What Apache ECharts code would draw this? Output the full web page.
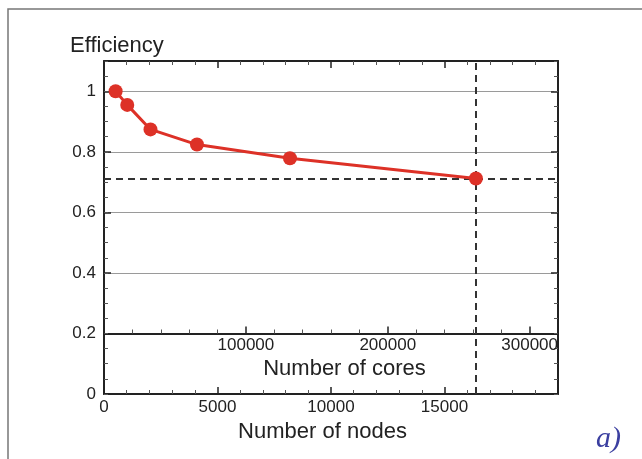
<!DOCTYPE html>
<html>
<head>
<meta charset="utf-8">
<script src="https://cdn.jsdelivr.net/npm/echarts@6/dist/echarts.min.js"></script>
<style>
  html, body { margin: 0; padding: 0; background: #fff; }
</style>
</head>
<body>
<div id="main" style="width: 642px; height: 459px;"></div>
<script>
// data
var nodes = [512, 1024, 2048, 4096, 8192, 16384];
var efficiency = [1.0, 0.955, 0.874, 0.824, 0.779, 0.712];
var coresPerNode = 16;
var refNodes = 16384;
var refEff = 0.712;

var font = '"Liberation Sans", Arial, sans-serif';
var axisColor = '#222';

var chart = echarts.init(document.getElementById('main'));

var tickLabel = { fontFamily: font, fontSize: 17, color: '#222' };
var nameStyle = { fontFamily: font, fontSize: 22, color: '#222' };

function frameAxis(extra) {
  return Object.assign({
    type: 'value',
    gridIndex: 0,
    axisLine: { onZero: false, lineStyle: { color: axisColor, width: 2 } },
    axisTick: { inside: true, length: 7, lineStyle: { color: axisColor, width: 1.5 } },
    axisLabel: { show: false },
    splitLine: { show: false }
  }, extra);
}

chart.setOption({
  animation: false,
  title: {
    text: 'Efficiency',
    left: 65,
    top: 30,
    textStyle: { fontFamily: font, fontSize: 22, fontWeight: 'normal', color: '#222' }
  },
  grid: [
    { left: 104, right: 84, top: 61, bottom: 65 },
    // helper grid whose bottom edge sits at efficiency = 0.2 (cores axis)
    { left: 104, right: 84, top: 61, bottom: 125.5 }
  ],
  xAxis: [
    frameAxis({
      position: 'bottom',
      min: 0, max: 20000, interval: 5000,
      name: 'Number of nodes', nameLocation: 'middle', nameGap: 24,
      nameTextStyle: Object.assign({ padding: [0, 17, 0, 0] }, nameStyle),
      minorTick: { show: true, splitNumber: 5, length: 4, lineStyle: { color: '#555' } },
      axisLabel: Object.assign({
        margin: 5,
        formatter: function (v) { return v >= 20000 ? '' : String(v); }
      }, tickLabel)
    }),
    frameAxis({
      position: 'top',
      min: 0, max: 20000, interval: 5000,
      minorTick: { show: true, splitNumber: 5, length: 4, lineStyle: { color: '#555' } }
    }),
    frameAxis({
      gridIndex: 1,
      position: 'bottom',
      min: 0, max: 20000 * coresPerNode, interval: 100000,
      name: 'Number of cores', nameLocation: 'middle', nameGap: 22,
      nameTextStyle: Object.assign({ padding: [0, 0, 0, 27] }, nameStyle),
      minorTick: { show: true, splitNumber: 5, length: 4, lineStyle: { color: '#555' } },
      axisLabel: Object.assign({
        margin: 3,
        formatter: function (v) { return v === 0 ? '' : String(v); }
      }, tickLabel)
    })
  ],
  yAxis: [
    frameAxis({
      position: 'left',
      min: 0, max: 1.1, interval: 0.2,
      axisLabel: Object.assign({
        margin: 8,
        formatter: function (v) { return v > 1.05 ? '' : String(+v.toFixed(1)); }
      }, tickLabel),
      splitLine: { show: true, lineStyle: { color: '#9a9a9a', width: 1 } }
    }),
    frameAxis({
      position: 'right',
      min: 0, max: 1.1, interval: 0.2
    }),
    // minor ticks every 0.05, left and right
    frameAxis({
      position: 'left',
      min: 0, max: 1.1, interval: 0.05,
      axisLine: { show: false, onZero: false },
      axisTick: { inside: true, length: 4, lineStyle: { color: '#555' } }
    }),
    frameAxis({
      position: 'right',
      min: 0, max: 1.1, interval: 0.05,
      axisLine: { show: false, onZero: false },
      axisTick: { inside: true, length: 4, lineStyle: { color: '#555' } }
    }),
    { type: 'value', gridIndex: 1, show: false, min: 0.2, max: 1.1 }
  ],
  series: [
    {
      type: 'line',
      xAxisIndex: 0,
      yAxisIndex: 0,
      data: nodes.map(function (n, i) { return [n, efficiency[i]]; }),
      symbol: 'circle',
      symbolSize: 14,
      itemStyle: { color: '#dd3127' },
      lineStyle: { color: '#dd3127', width: 3 },
      z: 5,
      markLine: {
        silent: true,
        symbol: 'none',
        label: { show: false },
        lineStyle: { color: '#333', width: 2, type: [7, 5] },
        data: [{ xAxis: refNodes }, { yAxis: refEff }]
      }
    }
  ],
  graphic: [
    {
      type: 'polyline',
      shape: { points: [[8, 459], [8, 9], [642, 9]] },
      style: { stroke: '#777', lineWidth: 1.5, fill: null }
    },
    {
      type: 'text',
      left: 596,
      top: 424,
      style: {
        text: 'a)',
        font: 'italic 30px "Liberation Serif", "DejaVu Serif", serif',
        fill: '#3b3fa0'
      }
    }
  ]
});
</script>
</body>
</html>
